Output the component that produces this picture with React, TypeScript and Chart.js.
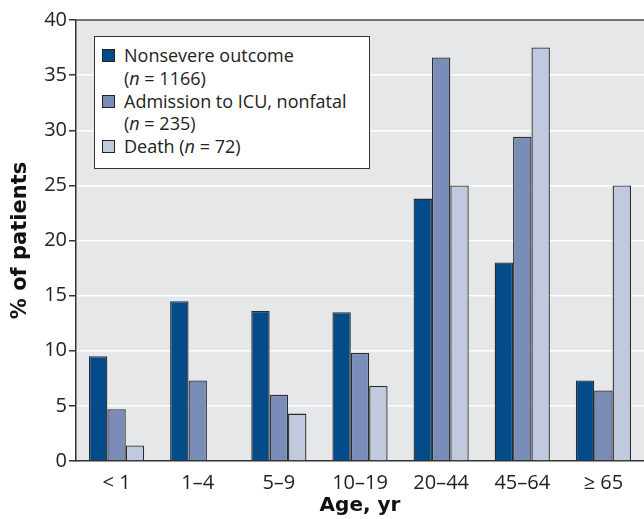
import React, { useEffect, useRef } from "react";
import { Chart, registerables } from "chart.js";

Chart.register(...registerables);

const categories = ["< 1", "1–4", "5–9", "10–19", "20–44", "45–64", "≥ 65"];
const nonsevere = [9.5, 14.5, 13.6, 13.5, 23.8, 18.0, 7.3];
const icuNonfatal = [4.7, 7.3, 6.0, 9.8, 36.6, 29.4, 6.4];
const death = [1.4, 0, 4.3, 6.8, 25.0, 37.5, 25.0];
const yTicks = [0, 5, 10, 15, 20, 25, 30, 35, 40];

const seriesNames = ["Nonsevere outcome", "Admission to ICU, nonfatal", "Death"];
const seriesN = ["1166", "235", "72"];
const seriesColors = ["#034b89", "#7a8db9", "#c0c9de"];

const FONT = "'Open Sans', 'Noto Sans', sans-serif";
const BOLD_FONT = "'DejaVu Sans', 'Open Sans', sans-serif";

const bgPlugin = {
  id: "bgPlugin",
  beforeDraw(chart: any) {
    const { ctx, chartArea } = chart;
    ctx.save();
    ctx.fillStyle = "#e6e7e9";
    ctx.fillRect(chartArea.left, chartArea.top, chartArea.right - chartArea.left, chartArea.bottom - chartArea.top);
    ctx.restore();
  },
  afterDraw(chart: any) {
    const { ctx, chartArea } = chart;
    ctx.save();
    ctx.strokeStyle = "#444";
    ctx.lineWidth = 1.5;
    ctx.beginPath();
    ctx.moveTo(chartArea.left, chartArea.top);
    ctx.lineTo(chartArea.right, chartArea.top);
    ctx.stroke();
    ctx.restore();
  },
};

export default function App() {
  const ref = useRef<HTMLCanvasElement | null>(null);
  useEffect(() => {
    document.body.style.margin = "0";
    if (!ref.current) return;
    const chart = new Chart(ref.current, {
      type: "bar",
      data: {
        labels: categories,
        datasets: [nonsevere, icuNonfatal, death].map((d, i) => ({
          label: seriesNames[i],
          data: d,
          backgroundColor: seriesColors[i],
          borderColor: "#2b2b2b",
          borderWidth: 1.3,
          categoryPercentage: 0.68,
          barPercentage: 1.0,
        })),
      },
      options: {
        responsive: false,
        animation: false,
        devicePixelRatio: 1,
        layout: { padding: { top: 20, right: 0, left: 0, bottom: 0 } },
        plugins: { legend: { display: false }, tooltip: { enabled: false } },
        scales: {
          x: {
            grid: { display: false },
            border: { display: true, color: "#333", width: 1.5 },
            ticks: { color: "#222", font: { family: FONT, size: 20 }, padding: 2 },
            title: {
              display: true,
              text: "Age, yr",
              color: "#111",
              font: { family: BOLD_FONT, size: 20, weight: "bold" },
              padding: { top: 0, bottom: 1 },
            },
            afterFit(scale: any) {
              scale.height = 58;
            },
          },
          y: {
            min: 0,
            max: 40,
            afterBuildTicks(scale: any) {
              scale.ticks = yTicks.map((v) => ({ value: v }));
            },
            grid: { color: "#ffffff", lineWidth: 1.5, tickColor: "#333", tickLength: 7, drawTicks: true },
            border: { display: true, color: "#333", width: 1.5 },
            ticks: { color: "#222", font: { family: FONT, size: 20 }, padding: 2 },
            title: {
              display: true,
              text: "% of patients",
              color: "#111",
              font: { family: BOLD_FONT, size: 21, weight: "bold" },
              padding: { top: 8, bottom: 4 },
            },
            afterFit(scale: any) {
              scale.width = 76;
            },
          },
        },
      },
      plugins: [bgPlugin],
    });
    return () => chart.destroy();
  }, []);

  return (
    <div style={{ position: "relative", width: 644, height: 519 }}>
      <canvas ref={ref} width={644} height={519} style={{ display: "block" }} />
      <div
        style={{
          position: "absolute",
          left: 94,
          top: 36,
          width: 276,
          height: 133,
          boxSizing: "border-box",
          border: "1.5px solid #333",
          background: "#fff",
          fontFamily: FONT,
          fontSize: 18,
          color: "#222",
          lineHeight: "22.75px",
          padding: "7px 4px 0 7px",
          whiteSpace: "nowrap",
        }}
      >
        {seriesNames.map((name, i) => (
          <div key={name} style={{ display: "flex", alignItems: "flex-start" }}>
            <span
              style={{
                display: "inline-block",
                width: 13,
                height: 13,
                boxSizing: "border-box",
                marginTop: 5,
                marginRight: 9,
                flex: "0 0 auto",
                background: seriesColors[i],
                border: "1.3px solid #222",
              }}
            />
            <span>
              {i < 2 ? (
                <>
                  {name}
                  <br />(<i>n</i> = {seriesN[i]})
                </>
              ) : (
                <>
                  {name} (<i>n</i> = {seriesN[i]})
                </>
              )}
            </span>
          </div>
        ))}
      </div>
    </div>
  );
}
